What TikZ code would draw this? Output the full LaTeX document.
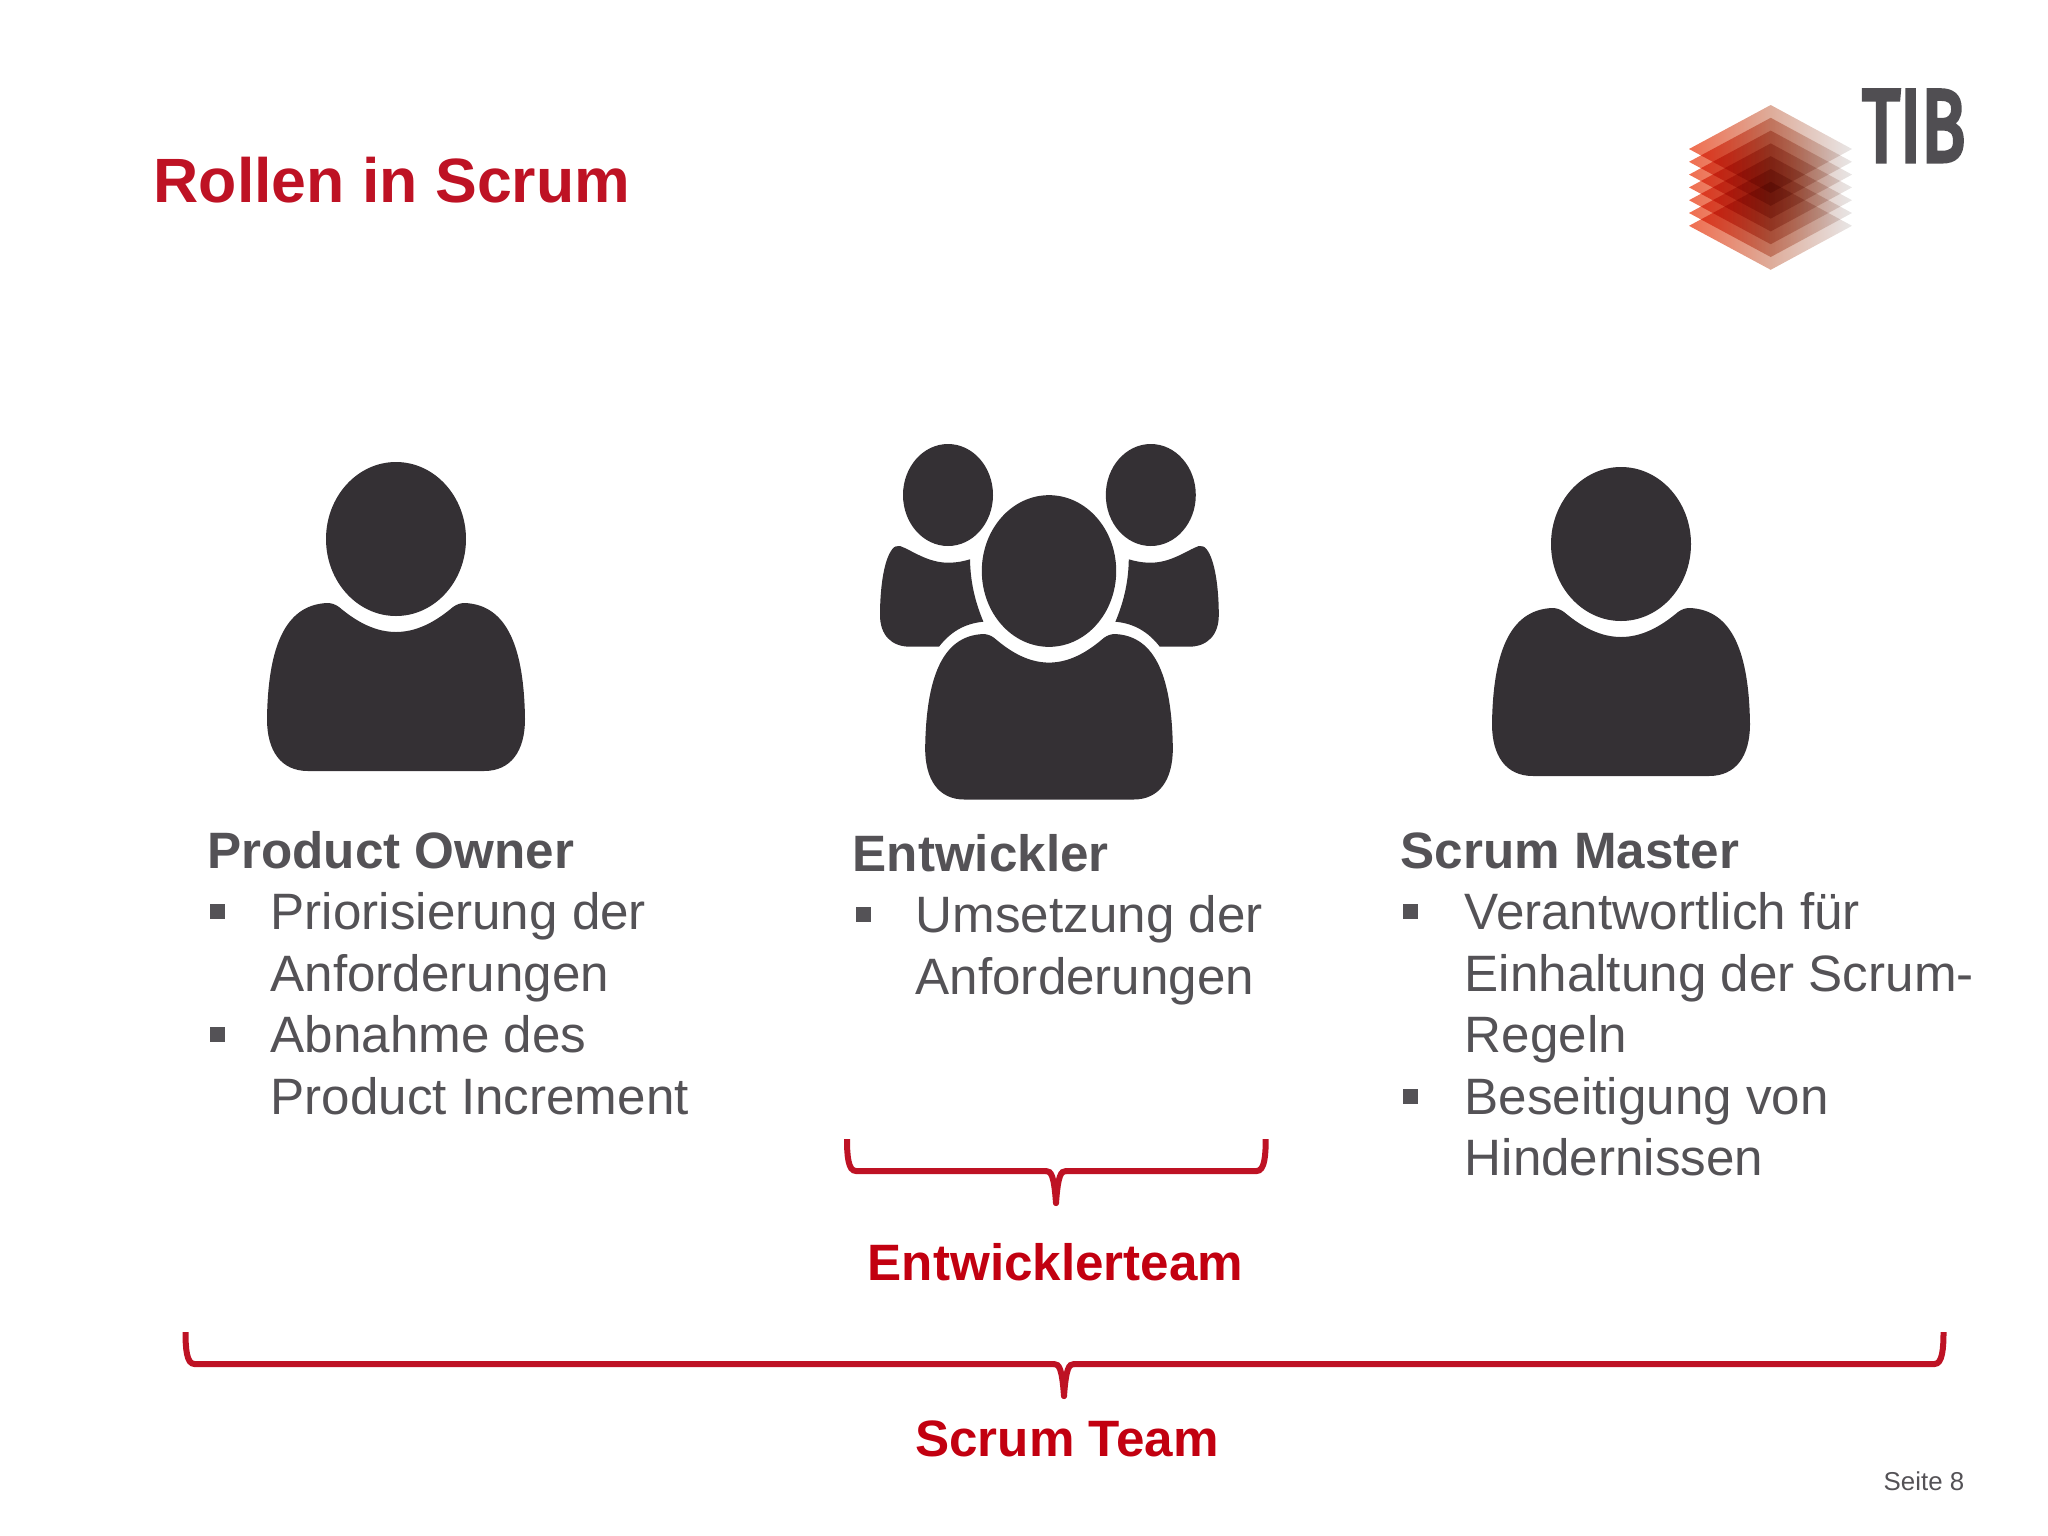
\documentclass[tikz,border=0pt]{standalone}
\usepackage{fontspec}
\setmainfont{Liberation Sans}
\newfontfamily\tibfont[FakeBold=5]{Fira Sans}
\tikzset{
  headertext/.style={anchor=base west,inner sep=0pt,text=textGray,font=\fontsize{14.55pt}{17pt}\selectfont\bfseries},
  bodytext/.style={anchor=base west,inner sep=0pt,text=textGray,font=\fontsize{14.55pt}{17pt}\selectfont},
  teamtext/.style={anchor=base,inner sep=0pt,text=teamRed,font=\fontsize{14.55pt}{17pt}\selectfont\bfseries},
  bulletbox/.style={rectangle,fill=textGray,inner sep=0pt,minimum size=0.15cm},
  bracestroke/.style={draw=braceRed,line width=0.06cm,line cap=round},
  personicon/.pic={
    \fill[iconGray] (0,0) ellipse [x radius=70,y radius=77];
    \fill[iconGray] (0,93) .. controls (25,93) and (45,78) .. (57,68) .. controls (61,65) and (65,64) .. (69,64)
      .. controls (112,66) and (128,110) .. (129,180) .. controls (129,212) and (115,232) .. (88,232)
      -- (-88,232) .. controls (-115,232) and (-129,212) .. (-129,180)
      .. controls (-128,110) and (-112,66) .. (-69,64) .. controls (-65,64) and (-61,65) .. (-57,68)
      .. controls (-45,78) and (-25,93) .. (0,93) -- cycle;
  },
  sideperson/.pic={
    \fill[iconGray] (-101.4,495) ellipse [x radius=45,y radius=51];
    \fill[iconGray] (-66,621.7) .. controls (-85,623.5) and (-99,632) .. (-110.4,646.7) -- (-139.4,646.7)
      .. controls (-158,646.7) and (-169.4,635) .. (-169.4,615) .. controls (-169.4,590) and (-166,560) .. (-157,549)
      .. controls (-155,546) and (-152,546) .. (-149.4,546) .. controls (-138,550) and (-122,562.7) .. (-101.4,562.7)
      .. controls (-92,562.7) and (-85,561) .. (-79.4,559.3) .. controls (-79,585) and (-73,605) .. (-66,621.7) -- cycle;
  }
}
\begin{document}
\begin{tikzpicture}[x=0.01cm,y=-0.01cm]
\definecolor{textGray}{RGB}{84,82,86}
\definecolor{iconGray}{RGB}{52,48,52}
\definecolor{titleRed}{RGB}{190,18,36}
\definecolor{teamRed}{RGB}{194,0,16}
\definecolor{braceRed}{RGB}{190,18,36}
\definecolor{logoLeft}{RGB}{240,110,80}
\definecolor{logoMid}{RGB}{222,172,154}
\definecolor{logoRight}{RGB}{232,230,230}
\useasboundingbox (0,0) rectangle (2048,1536);
% title and logo
\node[anchor=base west,inner sep=0pt,text=titleRed,font=\fontsize{17.8pt}{21pt}\selectfont\bfseries] (title) at (153,202.3) {Rollen in Scrum};
\foreach \ly in {149,161.8,174.6,187.4,200.2,213,225.8}
  \path[shade,left color=logoLeft,right color=logoRight,middle color=logoMid,blend mode=multiply]
    (1689,\ly) -- (1770.7,\ly-44) -- (1852,\ly) -- (1770.7,\ly+44) -- cycle;
\node[anchor=base west,inner sep=0pt,text=textGray!95!black,xscale=0.71,font=\fontsize{29pt}{34pt}\selectfont\tibfont] (tib) at (1862,161) {TIB};
% people
\pic at (396,539) {personicon};
\pic at (1621,544) {personicon};
\pic at (1049.4,0) {sideperson};
\pic[xscale=-1] at (1049.4,0) {sideperson};
\pic[xscale=0.96,yscale=0.985] at (1049,571) {personicon};
% product owner
\node[headertext] (owner) at (206.5,868.3) {Product Owner};
\node[bulletbox] (ownerA) at (217.6,911.2) {};
\node[bodytext] (ownerB) at (270,929) {Priorisierung der};
\node[bodytext] (ownerC) at (270,991) {Anforderungen};
\node[bulletbox] (ownerD) at (217.6,1034.2) {};
\node[bodytext] (ownerE) at (270,1052.5) {Abnahme des};
\node[bodytext] (ownerF) at (270,1114) {Product Increment};
% developer
\node[headertext] (dev) at (852,871) {Entwickler};
\node[bulletbox] (devA) at (863,914) {};
\node[bodytext] (devB) at (915,932) {Umsetzung der};
\node[bodytext] (devC) at (915,994) {Anforderungen};
% scrum master
\node[headertext] (master) at (1400,868.3) {Scrum Master};
\node[bulletbox] (masterA) at (1410.5,911.2) {};
\node[bodytext] (masterB) at (1464,929) {Verantwortlich für};
\node[bodytext] (masterC) at (1464,991) {Einhaltung der Scrum-};
\node[bodytext] (masterD) at (1464,1052.5) {Regeln};
\node[bulletbox] (masterE) at (1410.5,1096.5) {};
\node[bodytext] (masterF) at (1464,1114) {Beseitigung von};
\node[bodytext] (masterG) at (1464,1175.7) {Hindernissen};
% braces
\draw[bracestroke,line cap=butt] (847,1139) .. controls (847,1155) and (848,1171) .. (856,1171) -- (1046,1171);
\draw[bracestroke] (1046,1171) .. controls (1051,1171) and (1054,1175) .. (1056,1203);
\draw[bracestroke,line cap=butt] (1265.7,1139) .. controls (1265.7,1155) and (1264.7,1171) .. (1256.7,1171) -- (1066,1171);
\draw[bracestroke] (1066,1171) .. controls (1061,1171) and (1058,1175) .. (1056,1203);
\node[teamtext] (devteam) at (1055.5,1280) {Entwicklerteam};
\draw[bracestroke,line cap=butt] (185.5,1332) .. controls (185.5,1348) and (186.5,1364) .. (194.5,1364) -- (1054,1364);
\draw[bracestroke] (1054,1364) .. controls (1059,1364) and (1062,1368) .. (1064,1396);
\draw[bracestroke,line cap=butt] (1943.5,1332) .. controls (1943.5,1348) and (1942.5,1364) .. (1934.5,1364) -- (1074,1364);
\draw[bracestroke] (1074,1364) .. controls (1069,1364) and (1066,1368) .. (1064,1396);
\node[teamtext] (scrumteam) at (1067,1456) {Scrum Team};
\node[anchor=base west,inner sep=0pt,text=textGray,font=\fontsize{7.35pt}{9pt}\selectfont] (seite) at (1883,1490) {Seite 8};
\end{tikzpicture}
\end{document}
